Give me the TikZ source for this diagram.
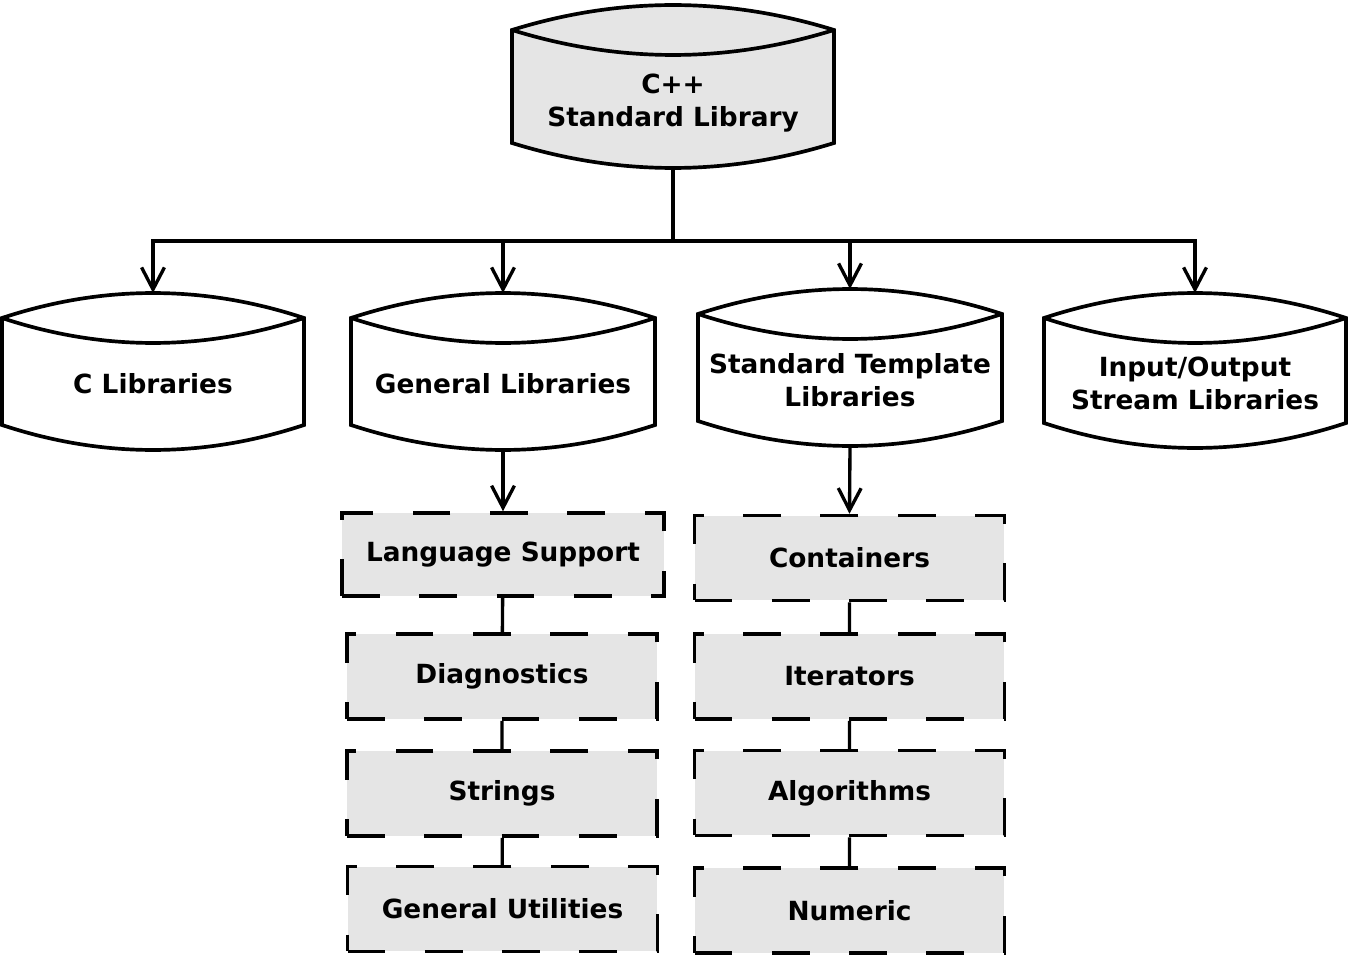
\documentclass[tikz,border=0pt]{standalone}
\usepackage{fontspec}
\setmainfont{DejaVu Sans}
\usetikzlibrary{arrows.meta,positioning}
\definecolor{boxgray}{HTML}{E5E5E5}
\tikzset{
    label text/.style={font=\fontsize{15}{18.7}\selectfont\bfseries, align=center},
    drum/.style={draw=black, line width=2.1pt},
    part/.style={label text, draw=black, fill=boxgray, line width=2pt,
        dash pattern=on 21.5pt off 22.5pt, minimum width=6.2cm,
        minimum height=1.7cm, inner sep=0pt},
    feed/.style={line width=1.9pt,
        -{Straight Barb[length=12.5pt,width=13pt,line width=1.9pt]}},
    link/.style={line width=1.9pt}
}
% [text shift] name, centre x, half width, top corner y, bottom corner y, fill, text
\newcommand{\libdrum}[8][0]{%
    \draw[drum, fill=#7] ({#3-#4},#5)
        .. controls ({#3-#4/3},{#5-33.3}) and ({#3+#4/3},{#5-33.3}) .. ({#3+#4},#5)
        -- ({#3+#4},#6)
        .. controls ({#3+#4/3},{#6+33.3}) and ({#3-#4/3},{#6+33.3}) .. ({#3-#4},#6)
        -- cycle;
    \draw[drum] ({#3-#4},#5)
        .. controls ({#3-#4/3},{#5+33.3}) and ({#3+#4/3},{#5+33.3}) .. ({#3+#4},#5);
    \node[label text] (#2) at (#3,{(#5+#6)/2+12.5+#1}) {#8};
    \coordinate (#2-top) at (#3,{#5-25});
    \coordinate (#2-bot) at (#3,{#6+25});
}

\begin{document}
\begin{tikzpicture}[x=0.02cm, y=-0.02cm]
    \useasboundingbox (0,0) rectangle (1349,956);

    \libdrum[4]{cpp}{673}{161}{30}{143}{boxgray}{C++\\Standard Library}
    \libdrum{clib}{153}{151}{318}{425}{white}{C Libraries}
    \libdrum{genlib}{503}{152}{318}{425}{white}{General Libraries}
    \libdrum{stl}{850}{152}{314}{421}{white}{Standard Template\\Libraries}
    \libdrum{iolib}{1195}{151}{318}{423}{white}{Input/Output\\Stream Libraries}

    \coordinate (bus) at (673,241);

    \node[part, minimum width=6.44cm, minimum height=1.66cm] (langsup) at (503,554.5) {Language Support};
    \node[part] (diag) at (502,676.5) {Diagnostics};
    \node[part] (strings) at (502,793.5) {Strings};
    \node[part] (genutil) at (502.5,909) {General Utilities};

    \node[part] (contain) at (849.5,558) {Containers};
    \node[part] (iter) at (849.5,676.5) {Iterators};
    \node[part] (algo) at (849.5,793) {Algorithms};
    \node[part] (numeric) at (849.5,910.5) {Numeric};

    \draw[feed] (cpp-bot) -- (bus) -| (clib-top);
    \draw[feed] (cpp-bot) -- (bus) -| (genlib-top);
    \draw[feed] (cpp-bot) -- (bus) -| (stl-top);
    \draw[feed] (cpp-bot) -- (bus) -| (iolib-top);

    \draw[feed] (genlib-bot) -- (langsup.north);
    \draw[feed] (stl-bot) -- (contain.north);

    \draw[link]
    (langsup) -- (diag)
    (diag) -- (strings)
    (strings) -- (genutil)
    (contain) -- (iter)
    (iter) -- (algo)
    (algo) -- (numeric);
\end{tikzpicture}
\end{document}
